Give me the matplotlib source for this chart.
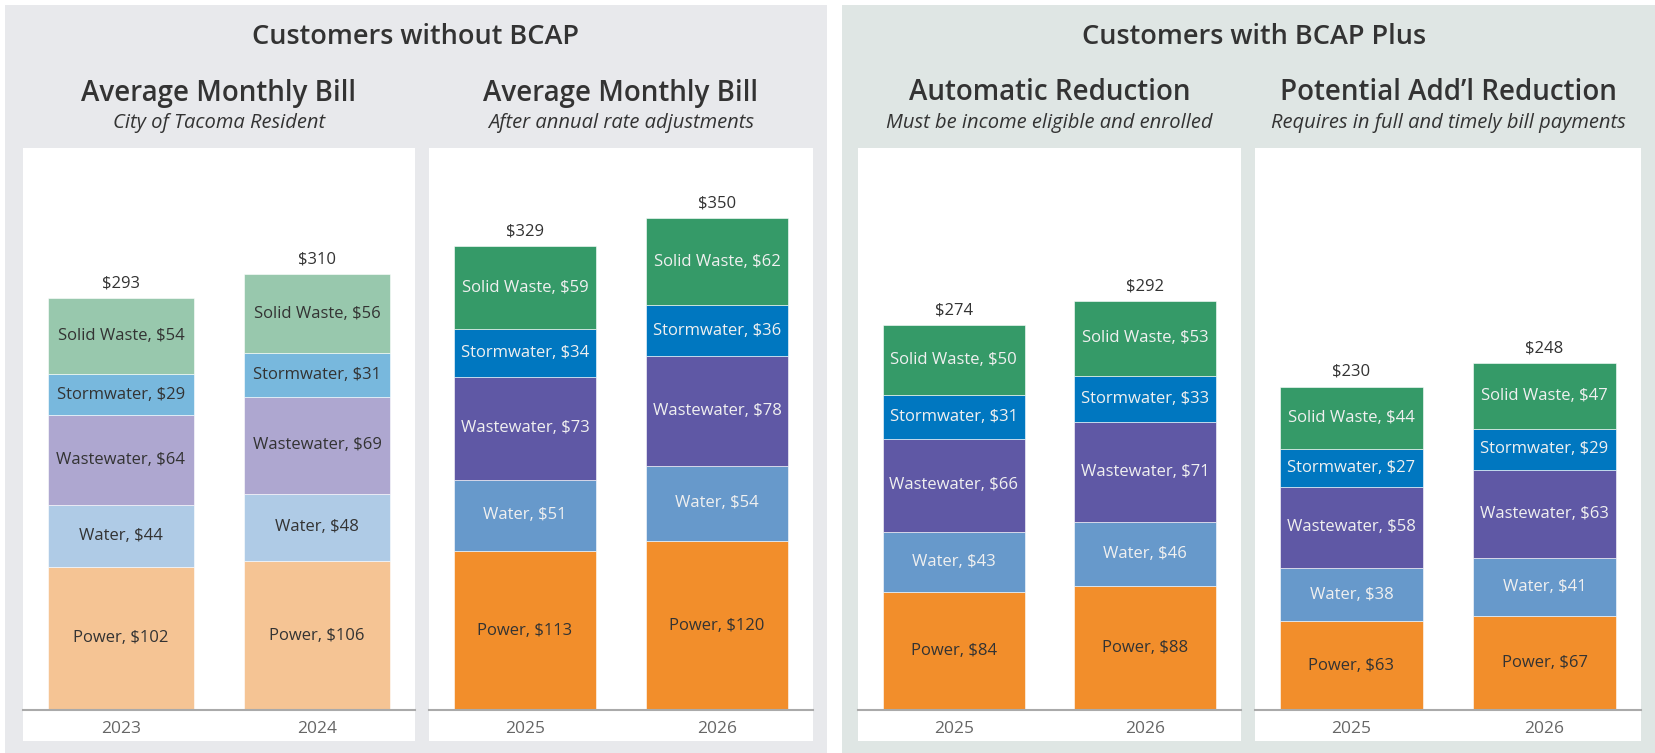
"""
Average monthly utility bill - City of Tacoma, with and without BCAP.
"""

import matplotlib.pyplot as plt
from matplotlib.patches import Rectangle

plt.rcParams['font.family'] = ['Open Sans', 'DejaVu Sans']

# --- dados ---
servicos = ["Power", "Water", "Wastewater", "Stormwater", "Solid Waste"]

anos_atual = ["2023", "2024"]
anos_futuro = ["2025", "2026"]

# valores por ano: Power, Water, Wastewater, Stormwater, Solid Waste
conta_atual = [[102, 44, 64, 29, 54], [106, 48, 69, 31, 56]]
conta_ajustada = [[113, 51, 73, 34, 59], [120, 54, 78, 36, 62]]
reducao_auto = [[84, 43, 66, 31, 50], [88, 46, 71, 33, 53]]
reducao_adicional = [[63, 38, 58, 27, 44], [67, 41, 63, 29, 47]]

total_atual = [293, 310]
total_ajustada = [329, 350]
total_auto = [274, 292]
total_adicional = [230, 248]

cores_claras = ["#f5c494", "#afcbe6", "#aea7d0", "#78b8dd", "#98c8ad"]
cores_fortes = ["#f28e2b", "#6799cb", "#5f58a5", "#0077c0", "#359a68"]
texto_claro = ["#333333"] * 5
texto_forte = ["#333333", "#f0f0f0", "#f0f0f0", "#f0f0f0", "#f0f0f0"]

W, H = 1656, 753
fig = plt.figure(figsize=(W / 100, H / 100), dpi=100)
fig.patch.set_facecolor("white")


def caixa(x0, y0, x1, y1, cor):
    # retângulo em pixels (origem no topo)
    fig.patches.append(Rectangle((x0 / W, 1 - y1 / H), (x1 - x0) / W, (y1 - y0) / H,
                                 transform=fig.transFigure, facecolor=cor,
                                 edgecolor="none", zorder=-5))


def texto(x, y, s, **kw):
    fig.text(x / W, 1 - y / H, s, ha="center", va="center", color="#333333", **kw)


# painéis de fundo
caixa(5, 5, 827, 753, "#e8e9ec")
caixa(842, 5, 1656, 753, "#dfe6e4")

texto(416, 37, "Customers without BCAP", fontsize=19.5, fontweight="semibold")
texto(1254, 37, "Customers with BCAP Plus", fontsize=19.5, fontweight="semibold")

graficos = [
    (23, 415, "Average Monthly Bill", "City of Tacoma Resident",
     anos_atual, conta_atual, total_atual, cores_claras, texto_claro),
    (429, 813, "Average Monthly Bill", "After annual rate adjustments",
     anos_futuro, conta_ajustada, total_ajustada, cores_fortes, texto_forte),
    (858, 1241, "Automatic Reduction", "Must be income eligible and enrolled",
     anos_futuro, reducao_auto, total_auto, cores_fortes, texto_forte),
    (1255, 1641, "Potential Add\u2019l Reduction", "Requires in full and timely bill payments",
     anos_futuro, reducao_adicional, total_adicional, cores_fortes, texto_forte),
]

topo, base, fundo = 148, 710, 741

for x0, x1, titulo, subtitulo, anos, valores, totais, cores, cores_txt in graficos:
    caixa(x0, topo, x1, fundo, "white")
    xc = (x0 + x1) / 2
    texto(xc, 93, titulo, fontsize=20, fontweight="semibold")
    texto(xc, 123, subtitulo, fontsize=14.5, style="italic")

    ax = fig.add_axes([x0 / W, 1 - base / H, (x1 - x0) / W, (base - topo) / H])
    ax.set_facecolor("white")

    for i, ano in enumerate(anos):
        acumulado = 0
        for j, serv in enumerate(servicos):
            v = valores[i][j]
            ax.bar(i, v, bottom=acumulado, width=0.74, color=cores[j],
                   edgecolor="white", linewidth=0.4)
            ax.text(i, acumulado + v / 2, f"{serv}, ${v}", ha="center", va="center",
                    fontsize=12, color=cores_txt[j])
            acumulado += v
        ax.annotate(f"${totais[i]}", (i, acumulado), xytext=(0, 5),
                    textcoords="offset points", ha="center", va="bottom",
                    fontsize=12, color="#333333")

    ax.set_xlim(-0.5, 1.5)
    ax.set_ylim(0, 400)
    ax.set_xticks(range(len(anos)))
    ax.set_xticklabels(anos, fontsize=12.5, color="#666666")
    ax.tick_params(axis="x", length=0, pad=8)
    ax.set_yticks([])
    for lado in ["top", "left", "right"]:
        ax.spines[lado].set_visible(False)
    ax.spines["bottom"].set_color("#aaaaaa")
    ax.spines["bottom"].set_linewidth(1.5)

plt.savefig("out.png", dpi=100)
plt.close()
